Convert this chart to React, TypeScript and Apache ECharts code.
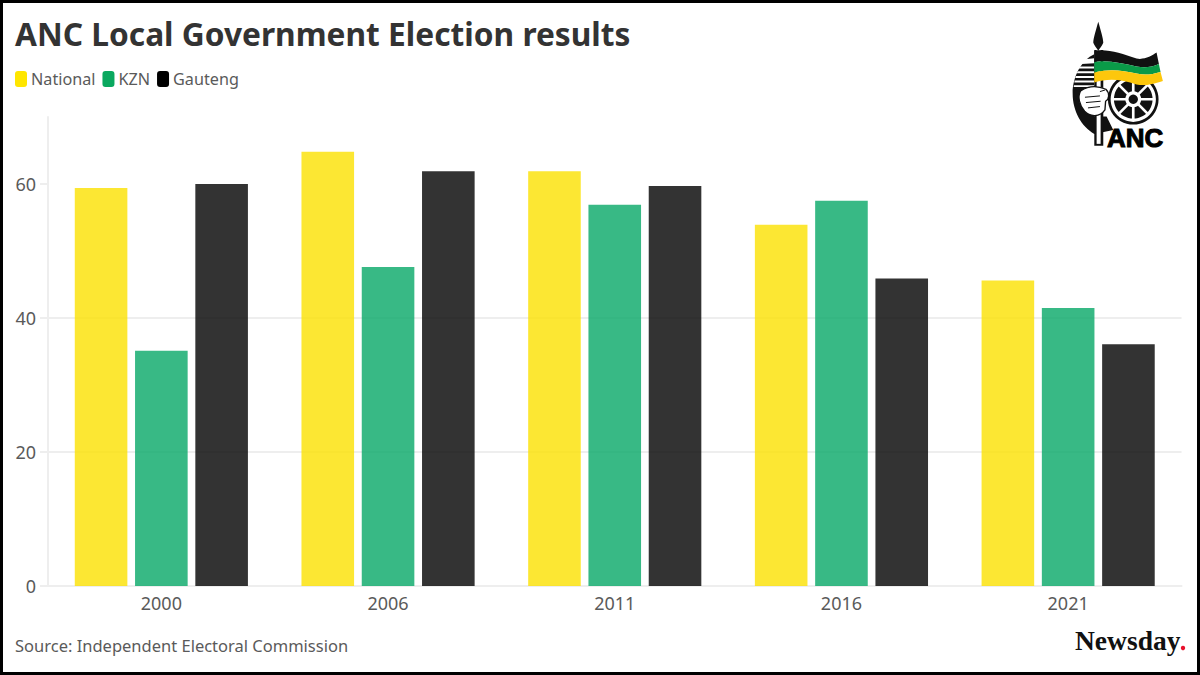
import React, { useEffect, useRef } from "react";
import * as echarts from "echarts";

const title = "ANC Local Government Election results";
const source = "Source: Independent Electoral Commission";
const years = ["2000", "2006", "2011", "2016", "2021"];
const national = [59.4, 64.8, 61.9, 53.9, 45.6];
const kzn = [35.1, 47.6, 56.9, 57.5, 41.5];
const gauteng = [60, 61.9, 59.7, 45.9, 36.1];
const yTicks = [0, 20, 40, 60];
const FONT = "'Noto Sans', sans-serif";

const shapes: Record<string, string> = {
  ancShield: "M133 133 C95 150 68 200 68 250 C68 305 95 350 133 372 L190 360 L170 320 L133 320 Z",
  ancBlade: "M145 35 C138 60 130 85 130 98 C134 108 140 114 145 122 C150 114 156 108 160 98 C160 85 152 60 145 35 Z",
  ancBlack: "M133 122 C175 116 215 130 260 146 C285 150 305 138 320 128 L327 162 C305 172 285 174 260 170 C215 160 175 150 133 156 Z",
  ancGreen: "M133 156 C175 150 215 160 260 170 C285 174 305 172 327 162 L332 186 C305 194 285 196 260 191 C215 180 175 176 133 188 Z",
  ancYellow: "M133 188 C175 176 215 180 260 191 C285 196 305 194 332 186 L339 213 C305 224 285 228 260 224 C215 208 175 204 133 218 Z",
  ancHand: "M92 243 C112 230 140 226 168 238 C180 250 178 268 167 274 L165 300 C150 322 120 322 104 304 C88 285 82 260 92 243 Z",
  ancStripes: "M90 170 L133 170 L133 176 L85 176 Z M84 184 L133 184 L133 190 L80 190 Z M78 198 L133 198 L133 204 L76 204 Z M74 212 L133 212 L133 218 L73 218 Z M72 226 L133 226 L133 231 L71 231 Z M105 148 L133 145 L133 160 L95 162 Z",
  ancFingers: "M105 262 L150 258 M108 278 L152 274 M114 294 L150 290 M150 245 L166 240",
};
Object.keys(shapes).forEach((k) => {
  echarts.graphic.registerShape(k, echarts.graphic.extendPath(shapes[k], {}));
});

const spokeAngles = [0, 45, 90, 135];

function logo() {
  const p = (type: string, fill: string, extra: any = {}) => ({ type, style: { fill, ...extra } });
  const spokes = spokeAngles.map((a) => {
    const r = (a * Math.PI) / 180;
    return {
      type: "line",
      shape: { x1: 250 - 62 * Math.cos(r), y1: 268 - 62 * Math.sin(r), x2: 250 + 62 * Math.cos(r), y2: 268 + 62 * Math.sin(r) },
      style: { stroke: "#fff", lineWidth: 8 },
    };
  });
  return {
    type: "group",
    x: 1050,
    y: 10,
    scaleX: 1 / 3,
    scaleY: 1 / 3,
    children: [
      p("ancShield", "#111"),
      p("ancStripes", "#fff"),
      { type: "circle", shape: { cx: 250, cy: 268, r: 76 }, style: { fill: "#111" } },
      { type: "circle", shape: { cx: 250, cy: 268, r: 68 }, style: { fill: "#fff" } },
      { type: "circle", shape: { cx: 250, cy: 268, r: 58 }, style: { fill: "#111" } },
      ...spokes,
      { type: "circle", shape: { cx: 250, cy: 268, r: 24 }, style: { fill: "#fff" } },
      { type: "circle", shape: { cx: 250, cy: 268, r: 14 }, style: { fill: "#111" } },
      { type: "rect", shape: { x: 133, y: 120, width: 27, height: 288 }, style: { fill: "#111" } },
      { type: "rect", shape: { x: 140, y: 120, width: 12, height: 282 }, style: { fill: "#fff" } },
      p("ancBlade", "#111"),
      { type: "ancHand", style: { fill: "#fff", stroke: "#111", lineWidth: 4 } },
      { type: "ancFingers", style: { fill: "none", stroke: "#111", lineWidth: 3 } },
      p("ancBlack", "#111"),
      p("ancGreen", "#0a9a48"),
      p("ancYellow", "#fdc70c"),
      {
        type: "text",
        x: 171,
        y: 345,
        style: {
          text: "ANC",
          font: "bold 78px 'Liberation Sans', sans-serif",
          fill: "#000",
          stroke: "#000",
          lineWidth: 3,
        },
      },
    ],
  };
}

export default function App() {
  const ref = useRef<HTMLDivElement>(null);
  useEffect(() => {
    document.body.style.margin = "0";
    const chart = echarts.init(ref.current!, undefined, { renderer: "svg" });
    const bar = (name: string, data: number[], color: string) => ({
      name,
      type: "bar",
      data,
      barWidth: 52.6,
      barGap: "14.6%",
      itemStyle: { color, opacity: 0.8 },
    });
    chart.setOption({
      animation: false,
      backgroundColor: "#fff",
      title: {
        text: title,
        left: 15,
        top: 17,
        padding: 0,
        textStyle: { fontFamily: FONT, fontWeight: 700, fontSize: 31.7, color: "#333" },
      },
      legend: {
        left: 15,
        top: 71,
        padding: 0,
        itemGap: 7,
        itemWidth: 12,
        itemHeight: 16,
        icon: "roundRect",
        data: [
          { name: "National", itemStyle: { color: "#FFE600", opacity: 1 } },
          { name: "KZN", itemStyle: { color: "#0AA85F", opacity: 1 } },
          { name: "Gauteng", itemStyle: { color: "#000", opacity: 1 } },
        ],
        textStyle: { fontFamily: FONT, fontSize: 16.2, color: "#5a5a5a", padding: [0, 0, 0, -1] },
      },
      grid: { left: 48, right: 18.5, top: 117, bottom: 89 },
      xAxis: {
        type: "category",
        data: years,
        axisLine: { lineStyle: { color: "#eee", width: 2 } },
        axisTick: { alignWithLabel: true, length: 8, lineStyle: { color: "#eee", width: 2 } },
        axisLabel: { fontFamily: FONT, fontSize: 18, color: "#5a5a5a", margin: 8 },
      },
      yAxis: {
        type: "value",
        min: 0,
        max: 70,
        interval: 20,
        axisLine: { show: true, lineStyle: { color: "#eee", width: 2 } },
        axisTick: { show: true, length: 8, customValues: yTicks, lineStyle: { color: "#eee", width: 2 } },
        axisLabel: { fontFamily: FONT, fontSize: 18, color: "#5a5a5a", margin: 12, customValues: yTicks },
        splitLine: { show: true, showMaxLine: false, lineStyle: { color: "#eee", width: 2 } },
      },
      series: [bar("National", national, "#FBE100"), bar("KZN", kzn, "#06A866"), bar("Gauteng", gauteng, "#000")],
      graphic: [
        {
          type: "text",
          x: 15,
          y: 637,
          style: { text: source, font: `16.5px ${FONT}`, fill: "#5a5a5a" },
        },
        {
          type: "text",
          x: 1075,
          y: 626,
          style: { text: "Newsday", font: "bold 27.5px 'Liberation Serif', serif", fill: "#111" },
        },
        { type: "circle", shape: { cx: 1183, cy: 648, r: 2.2 }, style: { fill: "#e8112d" } },
        logo(),
        {
          type: "rect",
          shape: { x: 0, y: 0, width: 1200, height: 675 },
          style: { fill: "none", stroke: "#000", lineWidth: 6 },
          silent: true,
        },
      ],
    });
    return () => chart.dispose();
  }, []);
  return <div ref={ref} style={{ width: 1200, height: 675 }} />;
}
